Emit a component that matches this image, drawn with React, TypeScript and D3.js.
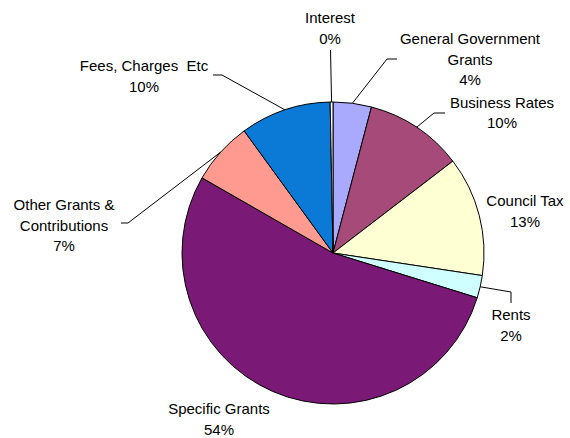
import React from "react";
import * as d3 from "d3";

const categories = [
  "General Government Grants",
  "Business Rates",
  "Council Tax",
  "Rents",
  "Specific Grants",
  "Other Grants & Contributions",
  "Fees, Charges  Etc",
  "Interest",
];
const values = [4.1, 10.49, 12.8, 2.4, 53.5, 6.7, 9.71, 0.3];
const colors = ["#a9a9fd", "#a64b79", "#ffffd4", "#d0ffff", "#7a1a76", "#ff9a90", "#0a7ad6", "#ffffff"];

// layout for labels: text lines, center x, first baseline y, leader points (from label toward pie)
const labelLayout: { lines: string[]; x: number; y: number; leader: [number, number][] }[] = [
  { lines: ["General Government", "Grants"], x: 470, y: 44, leader: [[397, 59], [387, 59]] },
  { lines: ["Business Rates"], x: 502, y: 107.5, leader: [[445, 113], [434, 113]] },
  { lines: ["Council Tax"], x: 525, y: 206, leader: [] },
  { lines: ["Rents"], x: 511, y: 320, leader: [[511, 303], [511, 292]] },
  { lines: ["Specific Grants"], x: 219, y: 414, leader: [] },
  { lines: ["Other Grants &", "Contributions"], x: 64, y: 210, leader: [[121, 223], [128, 223]] },
  { lines: ["Fees, Charges  Etc"], x: 144, y: 71, leader: [[213, 75], [222, 75]] },
  { lines: ["Interest"], x: 330, y: 23, leader: [[330.5, 50]] },
];

const W = 570;
const H = 438;
const cx = 333;
const cy = 253;
const R = 151;
const lineH = 20.5;

export default function App() {
  const data = categories.map((c, i) => ({ name: c, value: values[i], color: colors[i] }));
  const total = d3.sum(values);
  const pie = d3.pie<any>().sort(null).value((d) => d.value).startAngle(0).endAngle(2 * Math.PI);
  const arcs = pie(data);
  const arc = d3.arc<any>().innerRadius(0).outerRadius(R);

  return (
    <div style={{ position: "fixed", left: 0, top: 0 }}>
      <svg width={W} height={H} style={{ display: "block", background: "#fff" }}>
        <g transform={`translate(${cx},${cy})`}>
          {arcs.map((a, i) => (
            <path key={i} d={arc(a) || ""} fill={a.data.color} stroke="#000" strokeWidth={1} strokeLinejoin="round" />
          ))}
        </g>
        {arcs.map((a, i) => {
          const L = labelLayout[i];
          if (!L.leader.length) return null;
          const mid = (a.startAngle + a.endAngle) / 2;
          const ex = cx + R * Math.sin(mid);
          const ey = cy - R * Math.cos(mid);
          const pts = [...L.leader, [ex, ey]];
          const d = d3.line()(pts as [number, number][]) || "";
          return <path key={"l" + i} d={d} fill="none" stroke="#000" strokeWidth={1} />;
        })}
        {arcs.map((a, i) => {
          const L = labelLayout[i];
          const lines = [...L.lines, Math.round((a.data.value / total) * 100) + "%"];
          return (
            <text
              key={"t" + i}
              textAnchor="middle"
              fontFamily="'Liberation Sans', Arial, sans-serif"
              fontSize={15}
              fill="#000"
              style={{ whiteSpace: "pre" }}
            >
              {lines.map((ln, j) => (
                <tspan key={j} x={L.x} y={L.y + j * lineH}>
                  {ln}
                </tspan>
              ))}
            </text>
          );
        })}
      </svg>
    </div>
  );
}
